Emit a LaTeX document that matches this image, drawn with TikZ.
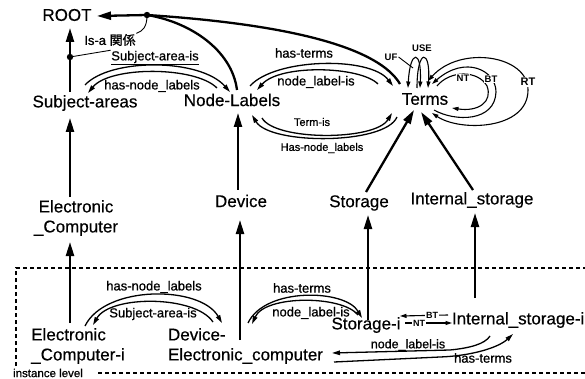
\documentclass[tikz,border=0pt]{standalone}
\usepackage{fontspec}
\setmainfont{Liberation Sans}
\newfontfamily\ndfont{Liberation Sans}[FakeBold=0.4]
\newfontfamily\lblfont{Liberation Sans}[FakeBold=0.8]
\newfontfamily\cjkfont{Noto Sans CJK JP}[FakeBold=0.8]
\usetikzlibrary{arrows.meta,calc}
\begin{document}
\begin{tikzpicture}[x=1pt,y=-1pt,
  nd/.style={font=\ndfont\fontsize{17}{20}\selectfont, inner sep=0pt, outer sep=0pt, align=center},
  lbl/.style={font=\lblfont\fontsize{13}{15}\selectfont, inner sep=0.5pt},
  slbl/.style={font=\lblfont\fontsize{11}{13}\selectfont, inner sep=0.5pt},
  tlbl/.style={font=\bfseries\fontsize{9.5}{11}\selectfont, inner sep=1pt},
  wlbl/.style={tlbl, fill=white, inner sep=0.8pt},
  isa/.style={line width=2.3pt, -{Triangle[length=14pt,width=8pt]}},
  isaplain/.style={line width=2.3pt},
  rel/.style={line width=1.3pt, -{Triangle[length=8pt,width=4.5pt]}},
  rels/.style={line width=1.1pt, -{Triangle[length=6.5pt,width=4pt]}},
  dashbox/.style={line width=1.1pt, dash pattern=on 4pt off 3pt},
  ptr/.style={line width=0.9pt}]
\fill[white] (0,0) rectangle (585,379);
\useasboundingbox (0,0) rectangle (585,379);

% nodes
\node[nd] (root) at (67,15) {ROOT};
\node[nd] (sa) at (85,103) {Subject-areas};
\node[nd] (nl) at (232,100) {Node-Labels};
\node[nd] (terms) at (425,99) {Terms};
\node[nd] (ec) at (76,218) {Electronic\\\_Computer};
\node[nd] (dev) at (241,201) {Device};
\node[nd] (sto) at (359,203) {Storage};
\node[nd] (ist) at (472,200) {Internal\_storage};
\node[nd, align=left] (eci) at (78,346) {Electronic\\\_Computer-i};
\node[nd, align=left, anchor=west] (dec) at (168,346) {Device-\\Electronic\_computer};
\node[nd] (stoi) at (366,325) {Storage-i};
\node[nd, anchor=west] (isti) at (452,320) {Internal\_storage-i};

% instance level box
\node[font=\lblfont\fontsize{11.5}{13}\selectfont, inner sep=0pt] (inst) at (48,373) {instance level};
\draw[dashbox] (16,366) -- (16,268) -- (585,268);
\draw[dashbox] (inst.east) ++(15,0) -- (585,373);

% is-a labels
\node[lbl] (isal) at (110,40) {Is-a {\cjkfont 関係}};
\coordinate (d1) at ($(sa)+(-15,-46)$);
\coordinate (d2) at ($(root)+(80,0)$);

% thick is-a arrows
\draw[isa] ($(sa)+(-15,-11)$) -- ($(root)+(3,13)$);
\draw[isa] ($(nl)+(5,-10)$) .. controls ($(nl)+(0,-50)$) and ($(nl)+(-42,-78)$) .. (d2) -- ($(root)+(30,1)$);
\draw[isaplain] ($(terms)+(-25,-15)$) .. controls ($(terms)+(-45,-49)$) and ($(terms)+(-125,-74)$) .. (d2);
\draw[isa] ($(ec)+(-6,-21)$) -- ($(sa)+(-15,15)$);
\draw[isa] ($(eci)+(-8,-23)$) -- ($(ec)+(-6,24)$);
\draw[isa] ($(dev)+(-3,-11)$) -- ($(nl)+(6,13)$);
\draw[isa] ($(dec.west)+(72,-6)$) -- ($(dev)+(-1,19)$);
\draw[isa] ($(sto)+(7,-11)$) -- ($(terms)+(-11,11)$);
\draw[isa] ($(ist)+(1,-10)$) -- ($(terms)+(-4,13)$);
\draw[isa] ($(stoi)+(2,-5)$) -- ($(sto)+(9,12)$);
\draw[isa] ($(isti.west)+(23,-22)$) -- ($(ist)+(3,13)$);
\fill (d1) circle (3.2pt);
\fill (d2) circle (3.2pt);

% labels of upper arcs
\node[lbl] (lsa1) at (155,58) {\underline{Subject-area-is}};
\node[lbl] (lhnl1) at (152,86) {has-node\_labels};
\node[lbl] (lht1) at (304,53) {has-terms};
\node[lbl] (lnli1) at (316,82) {node\_label-is};
\node[slbl] (lti) at (312,122) {Term-is};
\node[slbl] (lhnl2) at (322,148) {Has-node\_labels};

% pointers of the is-a annotation
\draw[ptr] (d1) -- (lsa1.north west);
\draw[ptr] (d2) .. controls ($(d2)+(0,12)$) and ($(d2)+(-4,16)$) .. (isal.north east);

% Subject-areas <-> Node-Labels
\draw[rel] ($(sa)+(0,-18)$) .. controls ($(sa)+(25,-45)$) and ($(nl)+(-32,-42)$) .. ($(nl)+(-2,-8)$);
\draw[rel] ($(nl)+(-15,-12)$) .. controls ($(nl)+(-37,-34)$) and ($(sa)+(25,-37)$) .. ($(sa)+(3,-10)$);
% Node-Labels <-> Terms (upper)
\draw[rel] ($(nl)+(18,-14)$) .. controls ($(nl)+(43,-42)$) and ($(terms)+(-55,-43)$) .. ($(terms)+(-32,-13)$);
\draw[rel] ($(terms)+(-47,-15)$) .. controls ($(terms)+(-65,-33)$) and ($(nl)+(48,-36)$) .. ($(nl)+(25,-10)$);
% Node-Labels <-> Terms (lower)
\draw[rel] ($(terms)+(-28,18)$) .. controls ($(terms)+(-40,46)$) and ($(nl)+(38,45)$) .. ($(nl)+(20,15)$);
\draw[rel] ($(nl)+(30,18)$) .. controls ($(nl)+(43,41)$) and ($(terms)+(-50,42)$) .. ($(terms)+(-33,14)$);

% Terms self loops
\node[tlbl] (luse) at (422,48) {USE};
\node[tlbl] (luf) at (391,57) {UF};
\draw[ptr] (luf.east) -- ($(terms)+(-12,-31)$);
\draw[rels, {Triangle[length=6.5pt,width=4pt]}-{Triangle[length=6.5pt,width=4pt]}] ($(terms)+(-17,-11)$) .. controls ($(terms)+(-15,-50)$) and ($(terms)+(-3,-50)$) .. ($(terms)+(-5,-11)$);
\draw[rels] ($(terms)+(-8,-11)$) .. controls ($(terms)+(-8,-52)$) and ($(terms)+(6,-50)$) .. ($(terms)+(3,-11)$);
% NT loop
\draw[rels] ($(terms)+(12,-13)$) .. controls ($(terms)+(25,-29)$) and ($(terms)+(53,-29)$) .. ($(terms)+(62,-13)$)
  .. controls ($(terms)+(68,3)$) and ($(terms)+(53,13)$) .. ($(terms)+(27,9)$);
% BT loop
\draw[rels] ($(terms)+(9,11)$) .. controls ($(terms)+(30,23)$) and ($(terms)+(70,23)$) .. ($(terms)+(71,-7)$)
  .. controls ($(terms)+(71,-29)$) and ($(terms)+(40,-44)$) .. ($(terms)+(7,-15)$);
% RT loop
\draw[rels, {Triangle[length=6.5pt,width=4pt]}-{Triangle[length=6.5pt,width=4pt]}] ($(terms)+(7,14)$) .. controls ($(terms)+(35,33)$) and ($(terms)+(103,31)$) .. ($(terms)+(103,-9)$)
  .. controls ($(terms)+(103,-44)$) and ($(terms)+(35,-54)$) .. ($(terms)+(3,-18)$);
\node[wlbl] at (463,78) {NT};
\node[wlbl] at (491,79) {BT};
\node[wlbl, font=\bfseries\fontsize{11}{13}\selectfont] at (528,82) {RT};

% instance level arcs
\node[lbl] (lhnl3) at (154,287) {has-node\_labels};
\node[lbl] (lsa2) at (153,314) {Subject-area-is};
\node[lbl] (lht2) at (302,288) {has-terms};
\node[lbl] (lnli2) at (311,313) {node\_label-is};
\draw[rel] ($(eci)+(7,-20)$) .. controls ($(eci)+(27,-61)$) and ($(dec.west)+(32,-61)$) .. ($(dec.west)+(54,-23)$);
\draw[rel] ($(dec.west)+(45,-24)$) .. controls ($(dec.west)+(27,-51)$) and ($(eci)+(32,-51)$) .. ($(eci)+(15,-21)$);
\draw[rel] ($(dec.west)+(80,-23)$) .. controls ($(dec.west)+(97,-59)$) and ($(stoi)+(-21,-36)$) .. ($(stoi)+(-4,-7)$);
\draw[rel] ($(stoi)+(-8,-10)$) .. controls ($(stoi)+(-24,-30)$) and ($(dec.west)+(97,-51)$) .. ($(dec.west)+(84,-22)$);

% Storage-i <-> Internal_storage-i
\draw[rels] ($(isti.west)+(-4,-5)$) -- node[pos=0.33, fill=white, inner sep=0.8pt, font=\bfseries\fontsize{9}{10}\selectfont] {BT} ($(stoi)+(34,-9)$);
\draw[rels] ($(stoi)+(39,-2)$) -- node[pos=0.3, fill=white, inner sep=0.8pt, font=\bfseries\fontsize{9}{10}\selectfont] {NT} ($(isti.west)+(0,3)$);

% Internal_storage-i <-> Device-Electronic_computer
\node[lbl, font=\lblfont\fontsize{12.5}{14}\selectfont] (lnli3) at (408,345) {node\_label-is};
\node[lbl] (lht3) at (483,358) {has-terms};
\draw[rel] ($(isti.west)+(38,16)$) .. controls ($(isti.west)+(33,24)$) and ($(isti.west)+(18,28)$) .. ($(isti.west)+(-2,30)$) -- ($(dec.west)+(164,7)$);
\draw[rel] ($(dec.west)+(166,16)$) -- ($(isti.west)+(-12,37)$) .. controls ($(isti.west)+(18,36)$) and ($(isti.west)+(46,28)$) .. ($(isti.west)+(61,14)$);
\end{tikzpicture}
\end{document}
